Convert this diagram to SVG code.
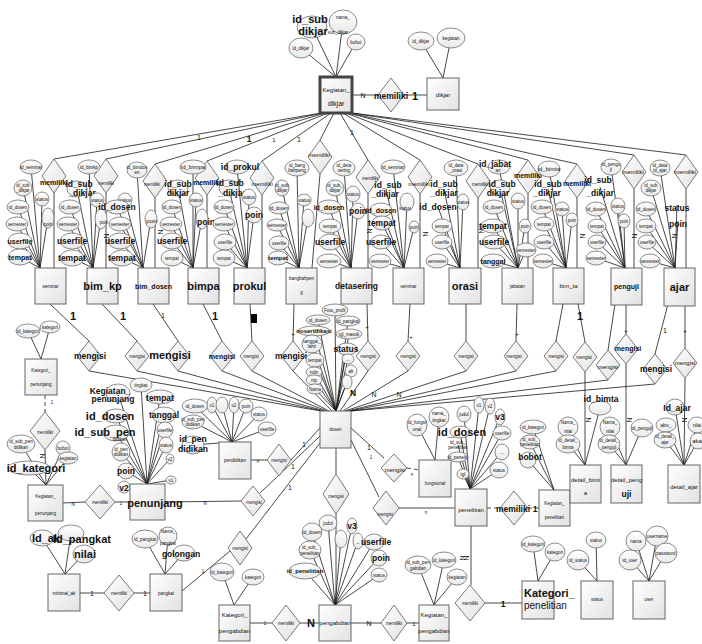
<svg xmlns="http://www.w3.org/2000/svg" width="702" height="644" viewBox="0 0 702 644">
<defs>
<linearGradient id="gb" x1="0" y1="0" x2="1" y2="1"><stop offset="0" stop-color="#ffffff"/><stop offset="1" stop-color="#e2e2e2"/></linearGradient>
<linearGradient id="ga" x1="0" y1="0" x2="0" y2="1"><stop offset="0" stop-color="#ffffff"/><stop offset="1" stop-color="#e9e9e9"/></linearGradient>
</defs>
<style>
.c line{stroke:#1a1a1a;stroke-width:.8;fill:none}
.c .k{stroke-dasharray:4 3}
.b{fill:url(#gb);stroke:#666;stroke-width:1}
.a{fill:url(#ga);stroke:#6e6e6e;stroke-width:.8}
.d{fill:url(#gb);stroke:#6a6a6a;stroke-width:.9}
text{font-family:"Liberation Sans",Arial,sans-serif;text-anchor:middle;fill:#111}
.t{font-size:4.5px}
.s{font-size:6px}
.n{font-size:7px}
.m{font-size:8.5px;font-weight:bold;font-family:"Liberation Sans Narrow","Liberation Sans",Arial,sans-serif}
.L{font-size:11px;font-weight:bold;font-family:"Liberation Sans Narrow","Liberation Sans",Arial,sans-serif}
</style>
<rect width="702" height="644" fill="#fff"/>

<g id="connectors" class="c">
<!-- Kegiatan_dikjar and dikjar attributes -->
<line x1="312" y1="27" x2="336" y2="77"/><line x1="343" y1="22" x2="336" y2="77"/><line x1="301" y1="48" x2="336" y2="77"/><line x1="356" y1="42" x2="336" y2="77"/>
<line x1="421" y1="41" x2="443" y2="78"/><line x1="451" y1="38" x2="443" y2="78"/>
<line x1="352" y1="95" x2="378" y2="95"/><line x1="404" y1="95" x2="427" y2="95"/>
<!-- fan from Kegiatan_dikjar to the memiliki relations -->
<line x1="321" y1="113" x2="54" y2="159"/><line x1="323" y1="113" x2="106" y2="159"/><line x1="325" y1="113" x2="155" y2="164"/><line x1="328" y1="113" x2="207" y2="161"/><line x1="331" y1="113" x2="262" y2="161"/><line x1="334" y1="113" x2="320" y2="140"/><line x1="340" y1="113" x2="368" y2="160"/><line x1="343" y1="113" x2="420" y2="160"/><line x1="346" y1="113" x2="478" y2="164"/><line x1="348" y1="113" x2="528" y2="160"/><line x1="350" y1="113" x2="577" y2="164"/><line x1="351" y1="113" x2="634" y2="155"/><line x1="352" y1="113" x2="686" y2="155"/>
<!-- memiliki to entity boxes -->
<line x1="54" y1="193" x2="54" y2="268"/><line x1="106" y1="193" x2="106" y2="268"/><line x1="155" y1="198" x2="155" y2="268"/><line x1="207" y1="195" x2="207" y2="268"/><line x1="262" y1="195" x2="262" y2="268"/><line x1="320" y1="174" x2="312" y2="268"/><line x1="368" y1="194" x2="368" y2="268"/><line x1="420" y1="194" x2="420" y2="268"/><line x1="478" y1="198" x2="478" y2="268"/><line x1="528" y1="194" x2="528" y2="268"/><line x1="577" y1="198" x2="577" y2="268"/><line x1="634" y1="189" x2="634" y2="268"/><line x1="686" y1="189" x2="686" y2="268"/>
<!-- seminar attributes -->
<line x1="31" y1="167" x2="40" y2="268"/><line x1="23" y1="188" x2="40" y2="268"/><line x1="42" y1="199" x2="40" y2="268"/><line x1="18" y1="207" x2="40" y2="268"/><line x1="17" y1="224" x2="40" y2="268"/><line x1="48" y1="218" x2="40" y2="268"/><line x1="20" y1="241" x2="40" y2="268"/><line x1="20" y1="257" x2="40" y2="268"/>
<!-- bim_kp attributes -->
<line x1="89" y1="167" x2="93" y2="268"/><line x1="77" y1="189" x2="93" y2="268"/><line x1="97" y1="200" x2="93" y2="268"/><line x1="70" y1="207" x2="93" y2="268"/><line x1="68" y1="224" x2="93" y2="268"/><line x1="101" y1="219" x2="93" y2="268"/><line x1="72" y1="241" x2="93" y2="268"/><line x1="72" y1="258" x2="93" y2="268"/>
<!-- bim_dosen attributes -->
<line x1="137" y1="170" x2="143" y2="268"/><line x1="125" y1="200" x2="143" y2="268"/><line x1="117" y1="207" x2="143" y2="268"/><line x1="120" y1="224" x2="143" y2="268"/><line x1="151" y1="219" x2="143" y2="268"/><line x1="120" y1="241" x2="143" y2="268"/><line x1="122" y1="258" x2="143" y2="268"/>
<!-- bimpa attributes -->
<line x1="193" y1="167" x2="193" y2="268"/><line x1="178" y1="188" x2="193" y2="268"/><line x1="196" y1="200" x2="193" y2="268"/><line x1="172" y1="207" x2="193" y2="268"/><line x1="171" y1="224" x2="193" y2="268"/><line x1="202" y1="219" x2="193" y2="268"/><line x1="172" y1="241" x2="193" y2="268"/><line x1="172" y1="258" x2="193" y2="268"/>
<!-- prokul attributes -->
<line x1="237" y1="167" x2="247" y2="268"/><line x1="229" y1="188" x2="247" y2="268"/><line x1="249" y1="197" x2="247" y2="268"/><line x1="224" y1="207" x2="247" y2="268"/><line x1="254" y1="215" x2="247" y2="268"/><line x1="224" y1="224" x2="247" y2="268"/><line x1="225" y1="242" x2="247" y2="268"/><line x1="224" y1="258" x2="247" y2="268"/>
<!-- bangbahpeng attributes -->
<line x1="297" y1="168" x2="299" y2="268"/><line x1="282" y1="188" x2="299" y2="268"/><line x1="304" y1="200" x2="299" y2="268"/><line x1="279" y1="208" x2="299" y2="268"/><line x1="308" y1="218" x2="299" y2="268"/><line x1="277" y1="225" x2="299" y2="268"/><line x1="279" y1="243" x2="299" y2="268"/><line x1="278" y1="258" x2="299" y2="268"/>
<!-- detasering attributes -->
<line x1="344" y1="168" x2="351" y2="268"/><line x1="335" y1="188" x2="351" y2="268"/><line x1="353" y1="194" x2="351" y2="268"/><line x1="329" y1="207" x2="351" y2="268"/><line x1="358" y1="211" x2="351" y2="268"/><line x1="330" y1="226" x2="351" y2="268"/><line x1="330" y1="242" x2="351" y2="268"/><line x1="329" y1="261" x2="351" y2="268"/>
<!-- seminar (second) attributes -->
<line x1="393" y1="167" x2="404" y2="268"/><line x1="386" y1="189" x2="404" y2="268"/><line x1="381" y1="210" x2="404" y2="268"/><line x1="382" y1="223" x2="404" y2="268"/><line x1="381" y1="242" x2="404" y2="268"/><line x1="380" y1="261" x2="404" y2="268"/><line x1="407" y1="202" x2="404" y2="268"/><line x1="414" y1="227" x2="404" y2="268"/>
<!-- orasi attributes -->
<line x1="456" y1="168" x2="460" y2="268"/><line x1="444" y1="189" x2="460" y2="268"/><line x1="438" y1="207" x2="460" y2="268"/><line x1="442" y1="226" x2="460" y2="268"/><line x1="442" y1="242" x2="460" y2="268"/><line x1="437" y1="261" x2="460" y2="268"/><line x1="463" y1="202" x2="460" y2="268"/>
<!-- jabatan attributes -->
<line x1="499" y1="167" x2="518" y2="268"/><line x1="500" y1="188" x2="518" y2="268"/><line x1="494" y1="207" x2="518" y2="268"/><line x1="493" y1="226" x2="518" y2="268"/><line x1="494" y1="242" x2="518" y2="268"/><line x1="493" y1="261" x2="518" y2="268"/><line x1="518" y1="201" x2="518" y2="268"/><line x1="525" y1="226" x2="518" y2="268"/><line x1="526" y1="250" x2="518" y2="268"/>
<!-- bim_ta attributes -->
<line x1="549" y1="169" x2="566" y2="268"/><line x1="548" y1="189" x2="566" y2="268"/><line x1="542" y1="207" x2="566" y2="268"/><line x1="544" y1="224" x2="566" y2="268"/><line x1="544" y1="242" x2="566" y2="268"/><line x1="543" y1="261" x2="566" y2="268"/><line x1="562" y1="209" x2="566" y2="268"/><line x1="572" y1="220" x2="566" y2="268"/>
<!-- penguji attributes -->
<line x1="611" y1="167" x2="625" y2="268"/><line x1="600" y1="187" x2="625" y2="268"/><line x1="596" y1="209" x2="625" y2="268"/><line x1="597" y1="226" x2="625" y2="268"/><line x1="597" y1="242" x2="625" y2="268"/><line x1="596" y1="258" x2="625" y2="268"/><line x1="618" y1="206" x2="625" y2="268"/><line x1="624" y1="221" x2="625" y2="268"/>
<!-- ajar attributes -->
<line x1="660" y1="168" x2="675" y2="268"/><line x1="651" y1="188" x2="675" y2="268"/><line x1="646" y1="209" x2="675" y2="268"/><line x1="646" y1="226" x2="675" y2="268"/><line x1="647" y1="242" x2="675" y2="268"/><line x1="650" y1="261" x2="675" y2="268"/><line x1="677" y1="205" x2="675" y2="268"/><line x1="678" y1="221" x2="675" y2="268"/>
<!-- entity boxes to mengisi -->
<line x1="50" y1="304" x2="89" y2="341"/><line x1="102" y1="304" x2="137" y2="341"/><line x1="153" y1="304" x2="178" y2="341"/><line x1="203" y1="304" x2="222" y2="341"/><line x1="250" y1="304" x2="252" y2="341"/><line x1="294" y1="304" x2="293" y2="341"/><line x1="367" y1="304" x2="368" y2="341"/><line x1="410" y1="304" x2="408" y2="341"/><line x1="466" y1="304" x2="466" y2="341"/><line x1="517" y1="304" x2="516" y2="341"/><line x1="563" y1="304" x2="556" y2="341"/><line x1="578" y1="304" x2="585" y2="342"/><line x1="615" y1="304" x2="608" y2="350"/><line x1="626" y1="304" x2="626" y2="334"/><line x1="668" y1="304" x2="655" y2="354"/><line x1="685" y1="304" x2="685" y2="348"/>
<!-- mengisi to dosen -->
<line x1="89" y1="371" x2="321" y2="411"/><line x1="137" y1="371" x2="323" y2="411"/><line x1="178" y1="371" x2="325" y2="411"/><line x1="222" y1="371" x2="327" y2="411"/><line x1="252" y1="371" x2="329" y2="411"/><line x1="293" y1="371" x2="332" y2="411"/><line x1="368" y1="371" x2="340" y2="411"/><line x1="408" y1="371" x2="343" y2="411"/><line x1="466" y1="371" x2="345" y2="411"/><line x1="516" y1="371" x2="347" y2="411"/><line x1="556" y1="371" x2="349" y2="411"/><line x1="608" y1="380" x2="350" y2="411"/><line x1="655" y1="384" x2="351" y2="411"/>
<!-- dosen attributes -->
<line x1="335" y1="310" x2="336" y2="411"/><line x1="318" y1="320" x2="336" y2="411"/><line x1="348" y1="321" x2="336" y2="411"/><line x1="314" y1="331" x2="336" y2="411"/><line x1="349" y1="334" x2="336" y2="411"/><line x1="312" y1="344" x2="336" y2="411"/><line x1="347" y1="349" x2="336" y2="411"/><line x1="315" y1="360" x2="336" y2="411"/><line x1="348" y1="359" x2="336" y2="411"/><line x1="351" y1="371" x2="336" y2="411"/><line x1="314" y1="372" x2="336" y2="411"/><line x1="314" y1="380" x2="336" y2="411"/><line x1="315" y1="389" x2="336" y2="411"/><line x1="347" y1="382" x2="336" y2="411"/>
<!-- detail relations -->
<line x1="585" y1="372" x2="585" y2="465"/><line x1="626" y1="364" x2="626" y2="465"/><line x1="685" y1="378" x2="684" y2="465"/>
<line x1="568" y1="427" x2="585" y2="465"/><line x1="568" y1="444" x2="585" y2="465"/><line x1="600" y1="408" x2="585" y2="465"/>
<line x1="610" y1="427" x2="626" y2="465"/><line x1="609" y1="444" x2="626" y2="465"/><line x1="642" y1="428" x2="626" y2="465"/>
<line x1="675" y1="407" x2="684" y2="465"/><line x1="666" y1="425" x2="684" y2="465"/><line x1="665" y1="440" x2="684" y2="465"/><line x1="697" y1="425" x2="684" y2="465"/><line x1="698" y1="441" x2="684" y2="465"/>
<!-- Kategori_penunjang / Kegiatan_penunjang -->
<line x1="28" y1="331" x2="41" y2="359"/><line x1="50" y1="327" x2="41" y2="359"/>
<line class="k" x1="45" y1="395" x2="45" y2="412"/><line x1="45" y1="450" x2="46" y2="485"/>
<line x1="21" y1="444" x2="46" y2="485"/><line x1="63" y1="448" x2="46" y2="485"/><line x1="68" y1="458" x2="46" y2="485"/><line x1="29" y1="468" x2="46" y2="485"/>
<line x1="63" y1="503" x2="85" y2="502"/><line x1="115" y1="502" x2="130" y2="502"/>
<!-- penunjang attributes -->
<line x1="118" y1="393" x2="147" y2="484"/><line x1="141" y1="385" x2="147" y2="484"/><line x1="160" y1="397" x2="147" y2="484"/><line x1="116" y1="416" x2="147" y2="484"/><line x1="164" y1="415" x2="147" y2="484"/><line x1="116" y1="433" x2="147" y2="484"/><line x1="165" y1="430" x2="147" y2="484"/><line x1="166" y1="445" x2="147" y2="484"/><line x1="121" y1="452" x2="147" y2="484"/><line x1="170" y1="459" x2="147" y2="484"/><line x1="126" y1="471" x2="147" y2="484"/><line x1="171" y1="480" x2="147" y2="484"/>
<line x1="165" y1="502" x2="241" y2="501"/>
<!-- pendidikan -->
<line x1="195" y1="406" x2="232" y2="442"/><line x1="212" y1="405" x2="232" y2="442"/><line x1="222" y1="405" x2="232" y2="442"/><line x1="234" y1="405" x2="232" y2="442"/><line x1="246" y1="406" x2="232" y2="442"/><line x1="259" y1="414" x2="232" y2="442"/><line x1="267" y1="429" x2="232" y2="442"/><line x1="193" y1="422" x2="232" y2="442"/><line x1="193" y1="445" x2="232" y2="442"/>
<line x1="251" y1="460" x2="267" y2="460"/>
<!-- dosen to the lower relations -->
<line x1="291" y1="460" x2="320" y2="428"/><line x1="260" y1="493" x2="320" y2="436"/><line x1="246" y1="539" x2="320" y2="443"/>
<line x1="182" y1="591" x2="230" y2="551"/>
<line x1="336" y1="448" x2="336" y2="474"/><line x1="336" y1="514" x2="336" y2="605"/>
<line x1="351" y1="428" x2="384" y2="458"/><line x1="351" y1="440" x2="379" y2="497"/>
<line class="k" x1="407" y1="468" x2="419" y2="470"/><line x1="399" y1="508" x2="455" y2="508"/>
<!-- fungsional -->
<line x1="417" y1="425" x2="435" y2="460"/><line x1="439" y1="417" x2="435" y2="460"/>
<!-- penelitian -->
<line x1="464" y1="414" x2="470" y2="489"/><line x1="479" y1="405" x2="470" y2="489"/><line x1="490" y1="406" x2="470" y2="489"/><line x1="500" y1="417" x2="470" y2="489"/><line x1="460" y1="432" x2="470" y2="489"/><line x1="458" y1="445" x2="470" y2="489"/><line x1="458" y1="457" x2="470" y2="489"/><line x1="463" y1="474" x2="470" y2="489"/><line x1="502" y1="433" x2="470" y2="489"/><line x1="502" y1="452" x2="470" y2="489"/><line x1="499" y1="470" x2="470" y2="489"/>
<line class="k" x1="487" y1="508" x2="500" y2="508"/><line class="k" x1="528" y1="508" x2="539" y2="508"/>
<line x1="533" y1="427" x2="554" y2="490"/><line x1="530" y1="442" x2="554" y2="490"/><line x1="528" y1="460" x2="554" y2="490"/>
<line x1="471" y1="526" x2="471" y2="585"/><line x1="485" y1="603" x2="522" y2="603"/>
<line x1="533" y1="544" x2="538" y2="581"/><line x1="555" y1="552" x2="538" y2="581"/>
<line x1="596" y1="540" x2="597" y2="581"/><line x1="578" y1="560" x2="597" y2="581"/>
<line x1="636" y1="541" x2="649" y2="581"/><line x1="657" y1="536" x2="649" y2="581"/><line x1="666" y1="553" x2="649" y2="581"/><line x1="630" y1="560" x2="649" y2="581"/>
<!-- minimal_ak / pangkat -->
<line x1="42" y1="538" x2="65" y2="574"/><line x1="71" y1="533" x2="65" y2="574"/><line x1="84" y1="554" x2="65" y2="574"/>
<line x1="80" y1="593" x2="104" y2="593"/><line x1="134" y1="593" x2="150" y2="593"/>
<line x1="145" y1="539" x2="165" y2="574"/><line x1="168" y1="536" x2="165" y2="574"/><line x1="184" y1="553" x2="165" y2="574"/>
<!-- pengabdian -->
<line x1="222" y1="572" x2="234" y2="605"/><line x1="253" y1="577" x2="234" y2="605"/>
<line x1="250" y1="623" x2="272" y2="623"/><line x1="300" y1="623" x2="319" y2="623"/>
<line x1="312" y1="532" x2="335" y2="605"/><line x1="328" y1="523" x2="335" y2="605"/><line x1="310" y1="550" x2="335" y2="605"/><line x1="305" y1="571" x2="335" y2="605"/><line x1="341" y1="539" x2="335" y2="605"/><line x1="352" y1="526" x2="335" y2="605"/><line x1="358" y1="541" x2="335" y2="605"/><line x1="374" y1="542" x2="335" y2="605"/><line x1="379" y1="558" x2="335" y2="605"/><line x1="379" y1="575" x2="335" y2="605"/>
<line x1="351" y1="623" x2="381" y2="623"/><line x1="407" y1="623" x2="419" y2="623"/>
<line x1="418" y1="565" x2="434" y2="605"/><line x1="444" y1="560" x2="434" y2="605"/><line x1="457" y1="577" x2="434" y2="605"/>
</g>

<g id="labels">
<text class="n" x="363" y="98">N</text><text class="L" x="415" y="100">1</text>
<text class="n" x="199" y="140">1</text><text class="m" x="249" y="142">1</text><text class="s" x="274" y="142">1</text><text class="n" x="299" y="142">1</text><text class="n" x="352" y="135">1</text>
<g class="n"><text transform="translate(104,236) rotate(90)">N</text><text transform="translate(158,232) rotate(90)">N</text><text transform="translate(367,231) rotate(90)">N</text><text transform="translate(423,234) rotate(90)">N</text><text transform="translate(479,231) rotate(90)">N</text><text transform="translate(580,236) rotate(90)">N</text><text transform="translate(632,236) rotate(90)">N</text><text transform="translate(672,236) rotate(90)">N</text><text transform="translate(586,420) rotate(90)">N</text><text transform="translate(627,420) rotate(90)">N</text><text transform="translate(682,420) rotate(90)">N</text><text transform="translate(40,456) rotate(90)">N</text><text transform="translate(464,558) rotate(90)">N</text><text transform="translate(460,558) rotate(90)">N</text></g>
<text class="L" x="73" y="320">1</text><text class="L" x="123" y="320">1</text><text class="n" x="163" y="318">1</text><text class="L" x="215" y="320">1</text><text class="L" x="580" y="320">1</text><text class="n" x="665" y="333">1</text>
<text class="s" x="293" y="336">+</text><text class="s" x="367" y="329">+</text><text class="s" x="411" y="339">+</text><text class="s" x="517" y="336">+</text><text class="s" x="626" y="333">+</text><text class="s" x="685" y="333">+</text>
<text class="m" x="353" y="396">N</text><text class="n" x="374" y="397">N</text><text class="n" x="399" y="397">N</text>
<text class="n" x="304" y="447">1</text><text class="n" x="293" y="469">1</text><text class="n" x="290" y="490">1</text><text class="n" x="369" y="450">1</text><text class="t" x="371" y="459">1</text>
<text class="t" x="258" y="463">n</text><text class="t" x="205" y="505">N</text><text class="t" x="203" y="573">1</text><text class="t" x="412" y="476">n</text><text class="t" x="426" y="514">n</text>
<text class="t" x="52" y="404">1</text><text class="t" x="73" y="506">N</text><text class="t" x="121" y="505">1</text>
<text class="n" x="92" y="596">1</text><text class="n" x="145" y="596">1</text>
<text class="t" x="265" y="625">1</text><text class="L" x="311" y="627">N</text><text class="n" x="369" y="626">N</text><text class="s" x="414" y="626">1</text>
<text class="m" x="535" y="512">1</text><text class="m" x="503" y="607">1</text>
<rect x="251" y="314" width="6" height="9" fill="#000"/>
</g>

<g id="Kegiatan_dikjar">
<ellipse class="a" cx="312" cy="27" rx="15" ry="11"/><text class="L" x="310" y="23">id_sub</text><text class="L" x="313" y="35">dikjar</text>
<ellipse class="a" cx="343" cy="22" rx="14" ry="12"/><text class="t" x="343" y="19">nama_</text><text class="t" x="338" y="34">sub_dikjar</text>
<ellipse class="a" cx="301" cy="48" rx="12" ry="10"/><text class="t" x="301" y="50">id_dikjar</text>
<ellipse class="a" cx="356" cy="42" rx="9" ry="8"/><text class="t" x="356" y="44">bobot</text>
<rect x="320" y="77" width="32" height="36" fill="url(#gb)" stroke="#444" stroke-width="3"/>
<text class="s" x="336" y="92">Kegiatan_</text><text class="n" x="336" y="106">dikjar</text>
</g>
<g id="memiliki_dikjar"><path class="d" d="M391,78 L404,95 L391,112 L378,95Z"/><text class="m" x="391" y="99">memiliki</text></g>
<g id="dikjar">
<ellipse class="a" cx="421" cy="41" rx="13" ry="9"/><text class="t" x="421" y="43">id_dikjar</text>
<ellipse class="a" cx="451" cy="38" rx="14" ry="10"/><text class="t" x="451" y="40">kegiatan</text>
<rect class="b" x="427" y="78" width="32" height="32"/><text class="s" x="443" y="97">dikjar</text>
</g>

<g id="relasi_memiliki">
<path class="d" d="M54,159 L66,176 L54,193 L42,176Z"/><text class="n" x="54" y="185" font-weight="bold">memiliki</text>
<path class="d" d="M106,159 L118,176 L106,193 L94,176Z"/><text class="t" x="106" y="185">memiliki</text>
<path class="d" d="M155,164 L167,181 L155,198 L143,181Z"/><text class="t" x="152" y="186">memiliki</text>
<path class="d" d="M207,161 L219,178 L207,195 L195,178Z"/><text class="n" x="207" y="185" font-weight="bold">memiliki</text>
<path class="d" d="M262,161 L274,178 L262,195 L250,178Z"/><text class="s" x="262" y="186">memiliki</text>
<path class="d" d="M320,140 L332,157 L320,174 L308,157Z"/><text class="s" x="319" y="157">memiliki</text>
<path class="d" d="M368,160 L380,177 L368,194 L356,177Z"/><text class="t" x="370" y="180">memiliki</text>
<path class="d" d="M420,160 L432,177 L420,194 L408,177Z"/><text class="s" x="419" y="186">memiliki</text>
<path class="d" d="M478,164 L490,181 L478,198 L466,181Z"/><text class="t" x="480" y="186">memiliki</text>
<path class="d" d="M528,160 L540,177 L528,194 L516,177Z"/><text class="n" x="528" y="178" font-weight="bold">memiliki</text>
<path class="d" d="M577,164 L589,181 L577,198 L565,181Z"/><text class="n" x="577" y="186" font-weight="bold">memiliki</text>
<path class="d" d="M634,155 L646,172 L634,189 L622,172Z"/><text class="s" x="633" y="174">memiliki</text>
<path class="d" d="M686,155 L698,172 L686,189 L674,172Z"/><text class="s" x="685" y="174">memiliki</text>
</g>

<g id="seminar">
<ellipse class="a" cx="31" cy="167" rx="11" ry="7"/><text class="t" x="31" y="168.5">id_seminar</text>
<ellipse class="a" cx="23" cy="188" rx="9" ry="8"/><text class="t" x="23" y="187">id_sub</text><text class="t" x="23" y="192">_dikjar</text>
<ellipse class="a" cx="42" cy="199" rx="7" ry="7"/><text class="t" x="42" y="200.5">status</text>
<ellipse class="a" cx="18" cy="207" rx="11" ry="7"/><text class="t" x="18" y="208.5">id_dosen</text>
<ellipse class="a" cx="17" cy="224" rx="11" ry="7"/><text class="t" x="17" y="225.5">semester</text>
<ellipse class="a" cx="48" cy="218" rx="6" ry="10"/><text class="t" x="48" y="226">poin</text>
<ellipse class="a" cx="20" cy="241" rx="12" ry="8"/><text class="n" x="20" y="243.5" font-weight="bold">userfile</text>
<ellipse class="a" cx="20" cy="257" rx="12" ry="8"/><text class="n" x="20" y="259.5" font-weight="bold">tempat</text>
<rect class="b" x="35" y="268" width="31" height="36"/><text class="t" x="50.5" y="288">seminar</text>
</g>
<g id="bim_kp">
<ellipse class="a" cx="89" cy="167" rx="11" ry="7"/><text class="t" x="89" y="168.5">id_bimkp</text>
<ellipse class="a" cx="77" cy="189" rx="10" ry="8"/><text class="m" x="79" y="187">id_sub</text><text class="m" x="82" y="196">_dikjar</text>
<ellipse class="a" cx="97" cy="200" rx="7" ry="7"/><text class="t" x="97" y="201.5">status</text>
<ellipse class="a" cx="70" cy="207" rx="11" ry="7"/><text class="t" x="70" y="208.5">id_dosen</text>
<ellipse class="a" cx="68" cy="224" rx="11" ry="7"/><text class="t" x="68" y="225.5">semester</text>
<ellipse class="a" cx="101" cy="219" rx="6" ry="10"/><text class="t" x="104" y="224">poin</text>
<ellipse class="a" cx="72" cy="241" rx="12" ry="8"/><text class="m" x="72" y="244">userfile</text>
<ellipse class="a" cx="72" cy="258" rx="12" ry="8"/><text class="m" x="72" y="261">tempat</text>
<rect class="b" x="87" y="268" width="31" height="36"/><text class="L" x="102.5" y="290">bim_kp</text>
</g>
<g id="bim_dosen">
<ellipse class="a" cx="137" cy="170" rx="10" ry="8"/><text class="t" x="137" y="169">id_bimdos</text><text class="t" x="137" y="174">en</text>
<ellipse class="a" cx="125" cy="200" rx="7" ry="7"/><text class="t" x="125" y="201.5">status</text>
<ellipse class="a" cx="117" cy="207" rx="12" ry="7"/><text class="m" x="117" y="210">id_dosen</text>
<ellipse class="a" cx="120" cy="224" rx="11" ry="7"/><text class="t" x="120" y="225.5">semester</text>
<ellipse class="a" cx="151" cy="219" rx="6" ry="9"/><text class="s" x="152" y="223">poin</text>
<ellipse class="a" cx="120" cy="241" rx="12" ry="8"/><text class="m" x="120" y="244">userfile</text>
<ellipse class="a" cx="122" cy="258" rx="12" ry="8"/><text class="m" x="122" y="261">tempat</text>
<rect class="b" x="138" y="268" width="31" height="36"/><text class="n" x="153.5" y="289" font-weight="bold">bim_dosen</text>
</g>
<g id="bimpa">
<ellipse class="a" cx="193" cy="167" rx="13" ry="7"/><text class="s" x="193" y="169">id_bimpa</text>
<ellipse class="a" cx="178" cy="188" rx="10" ry="8"/><text class="m" x="178" y="187">id_sub</text><text class="m" x="178" y="196">dikjar</text>
<ellipse class="a" cx="196" cy="200" rx="7" ry="7"/><text class="t" x="196" y="201.5">status</text>
<ellipse class="a" cx="172" cy="207" rx="10" ry="7"/><text class="t" x="172" y="208.5">id_dosen</text>
<ellipse class="a" cx="171" cy="224" rx="11" ry="7"/><text class="t" x="171" y="225.5">semester</text>
<ellipse class="a" cx="202" cy="219" rx="6" ry="10"/><text class="m" x="206" y="225">poin</text>
<ellipse class="a" cx="172" cy="241" rx="11" ry="8"/><text class="m" x="172" y="244">userfile</text>
<ellipse class="a" cx="172" cy="258" rx="11" ry="8"/><text class="t" x="172" y="259.5">tempat</text>
<rect class="b" x="188" y="268" width="31" height="36"/><text class="L" x="203.5" y="290">bimpa</text>
</g>
<g id="prokul">
<ellipse class="a" cx="237" cy="167" rx="12" ry="7"/><text class="m" x="240" y="170">id_prokul</text>
<ellipse class="a" cx="229" cy="188" rx="10" ry="8"/><text class="m" x="230" y="186">id_sub</text><text class="m" x="232" y="196">_dikjar</text>
<ellipse class="a" cx="249" cy="197" rx="7" ry="8"/><text class="t" x="249" y="198.5">status</text>
<ellipse class="a" cx="224" cy="207" rx="10" ry="7"/><text class="t" x="224" y="208.5">id_dosen</text>
<ellipse class="a" cx="254" cy="215" rx="8" ry="8"/><text class="m" x="254" y="218">poin</text>
<ellipse class="a" cx="224" cy="224" rx="11" ry="7"/><text class="t" x="224" y="225.5">semester</text>
<ellipse class="a" cx="225" cy="242" rx="11" ry="8"/><text class="t" x="225" y="243.5">userfile</text>
<ellipse class="a" cx="224" cy="258" rx="11" ry="8"/><text class="t" x="224" y="259.5">tempat</text>
<rect class="b" x="234" y="268" width="31" height="36"/><text class="L" x="249.5" y="290">prokul</text>
</g>
<g id="bangbahpeng">
<ellipse class="a" cx="297" cy="168" rx="12" ry="8"/><text class="t" x="297" y="167">id_bang</text><text class="t" x="297" y="172">bahpeng</text>
<ellipse class="a" cx="282" cy="188" rx="7" ry="8"/><text class="t" x="282" y="187">id_sub</text><text class="t" x="282" y="192">dikjar</text>
<ellipse class="a" cx="304" cy="200" rx="7" ry="6"/><text class="t" x="304" y="201.5">status</text>
<ellipse class="a" cx="279" cy="208" rx="10" ry="6"/><text class="t" x="279" y="209.5">id_dosen</text>
<ellipse class="a" cx="308" cy="218" rx="6" ry="9"/>
<ellipse class="a" cx="277" cy="225" rx="10" ry="6"/><text class="t" x="277" y="226.5">semester</text>
<ellipse class="a" cx="279" cy="243" rx="10" ry="7"/><text class="t" x="279" y="244.5">userfile</text>
<ellipse class="a" cx="278" cy="258" rx="10" ry="7"/><text class="s" x="278" y="260" font-weight="bold">tempat</text>
<rect class="b" x="286" y="268" width="31" height="36"/><text class="t" x="301.5" y="280">bangbahpen</text><text class="t" x="301.5" y="294">g</text>
</g>
<g id="detasering">
<ellipse class="a" cx="344" cy="168" rx="11" ry="8"/><text class="t" x="344" y="167">id_deta</text><text class="t" x="344" y="172">sering</text>
<ellipse class="a" cx="335" cy="188" rx="9" ry="8"/><text class="t" x="335" y="187">id_sub_</text><text class="t" x="335" y="192">dikjar</text>
<ellipse class="a" cx="353" cy="194" rx="7" ry="8"/><text class="t" x="353" y="195.5">status</text>
<ellipse class="a" cx="329" cy="207" rx="12" ry="7"/><text class="n" x="329" y="209.5" font-weight="bold">id_dosen</text>
<ellipse class="a" cx="358" cy="211" rx="7" ry="8"/><text class="m" x="358" y="214">poin</text>
<ellipse class="a" cx="330" cy="226" rx="11" ry="7"/><text class="t" x="330" y="227.5">tempat</text>
<ellipse class="a" cx="330" cy="242" rx="11" ry="8"/><text class="m" x="330" y="245">userfile</text>
<ellipse class="a" cx="329" cy="261" rx="12" ry="7"/><text class="t" x="329" y="262.5">semester</text>
<rect class="b" x="341" y="268" width="31" height="36"/><text class="m" x="356.5" y="289">detasering</text>
</g>
<g id="seminar_2">
<ellipse class="a" cx="393" cy="167" rx="12" ry="7"/><text class="t" x="393" y="168.5">id_seminar</text>
<text class="m" x="388" y="188">id_sub</text><text class="m" x="385" y="197">_dikjar</text>
<ellipse class="a" cx="381" cy="210" rx="11" ry="7"/><text class="n" x="381" y="212.5" font-weight="bold">id_dosen</text>
<ellipse class="a" cx="382" cy="223" rx="10" ry="7"/><text class="m" x="382" y="226">tempat</text>
<ellipse class="a" cx="381" cy="242" rx="10" ry="7"/><text class="m" x="381" y="245">userfile</text>
<ellipse class="a" cx="380" cy="261" rx="11" ry="7"/><text class="t" x="380" y="262.5">semester</text>
<ellipse class="a" cx="407" cy="202" rx="7" ry="9"/><text class="t" x="405" y="210">status</text>
<ellipse class="a" cx="414" cy="227" rx="5" ry="6"/><text class="t" x="414" y="228.5">poin</text>
<rect class="b" x="393" y="268" width="31" height="36"/><text class="t" x="408.5" y="288">seminar</text>
</g>
<g id="orasi">
<ellipse class="a" cx="456" cy="168" rx="12" ry="8"/><text class="t" x="456" y="167">id_data</text><text class="t" x="456" y="172">_orasi</text>
<text class="m" x="444" y="187">id_sub</text><text class="m" x="444" y="196">_dikjar</text>
<text class="m" x="438" y="210">id_dosen</text>
<ellipse class="a" cx="442" cy="226" rx="10" ry="7"/><text class="t" x="442" y="227.5">tempat</text>
<ellipse class="a" cx="442" cy="242" rx="10" ry="7"/><text class="t" x="442" y="243.5">userfile</text>
<ellipse class="a" cx="437" cy="261" rx="11" ry="7"/><text class="t" x="437" y="262.5">semester</text>
<ellipse class="a" cx="463" cy="202" rx="6" ry="8"/><text class="t" x="463" y="203.5">status</text>
<rect class="b" x="449" y="268" width="32" height="36"/><text class="L" x="465" y="290">orasi</text>
</g>
<g id="jabatan">
<ellipse class="a" cx="499" cy="167" rx="11" ry="7"/><text class="m" x="495" y="167">id_jabat</text><text class="t" x="498" y="172">an</text>
<ellipse class="a" cx="500" cy="188" rx="10" ry="8"/><text class="m" x="502" y="187">id_sub</text><text class="m" x="498" y="196">dikjar</text>
<ellipse class="a" cx="494" cy="207" rx="11" ry="7"/><text class="t" x="494" y="208.5">id_dosen</text>
<ellipse class="a" cx="493" cy="226" rx="12" ry="7"/><text class="m" x="493" y="229">tempat</text>
<ellipse class="a" cx="494" cy="242" rx="12" ry="7"/><text class="m" x="494" y="245">userfile</text>
<ellipse class="a" cx="493" cy="261" rx="12" ry="7"/><text class="n" x="493" y="263.5" font-weight="bold">tanggal</text>
<ellipse class="a" cx="518" cy="201" rx="7" ry="8"/><text class="t" x="518" y="202.5">status</text>
<ellipse class="a" cx="525" cy="226" rx="6" ry="7"/><text class="t" x="525" y="227.5">poin</text>
<ellipse class="a" cx="526" cy="250" rx="10" ry="7"/><text class="t" x="526" y="251.5">semester</text>
<rect class="b" x="502" y="268" width="31" height="36"/><text class="t" x="517.5" y="288">jabatan</text>
</g>
<g id="bim_ta">
<ellipse class="a" cx="549" cy="169" rx="11" ry="8"/><text class="s" x="549" y="171">id_bimta</text>
<text class="m" x="548" y="187">id_sub</text><text class="m" x="547" y="196">_dikjar</text>
<ellipse class="a" cx="542" cy="207" rx="11" ry="7"/><text class="t" x="542" y="208.5">id_dosen</text>
<ellipse class="a" cx="544" cy="224" rx="10" ry="7"/><text class="t" x="544" y="225.5">tempat</text>
<ellipse class="a" cx="544" cy="242" rx="10" ry="7"/><text class="t" x="544" y="243.5">userfile</text>
<ellipse class="a" cx="543" cy="261" rx="10" ry="7"/><text class="t" x="543" y="262.5">semester</text>
<ellipse class="a" cx="562" cy="209" rx="7" ry="7"/><text class="t" x="562" y="210.5">status</text>
<ellipse class="a" cx="572" cy="220" rx="6" ry="7"/><text class="t" x="572" y="221.5">poin</text>
<rect class="b" x="553" y="268" width="31" height="36"/><text class="s" x="568.5" y="288">bim_ta</text>
</g>
<g id="penguji">
<ellipse class="a" cx="611" cy="167" rx="10" ry="8"/><text class="t" x="611" y="166">id_pengu</text><text class="t" x="611" y="171">ji</text>
<text class="m" x="598" y="183">id_sub</text><text class="m" x="600" y="196">_dikjar</text>
<ellipse class="a" cx="596" cy="209" rx="10" ry="7"/><text class="t" x="596" y="210.5">id_dosen</text>
<ellipse class="a" cx="597" cy="226" rx="9" ry="7"/><text class="t" x="597" y="227.5">tempat</text>
<ellipse class="a" cx="597" cy="242" rx="9" ry="7"/><text class="t" x="597" y="243.5">userfile</text>
<ellipse class="a" cx="596" cy="258" rx="10" ry="7"/><text class="t" x="596" y="259.5">semester</text>
<ellipse class="a" cx="618" cy="206" rx="7" ry="8"/><text class="t" x="618" y="207.5">status</text>
<ellipse class="a" cx="624" cy="221" rx="6" ry="7"/><text class="t" x="624" y="222.5">poin</text>
<rect class="b" x="611" y="268" width="31" height="37"/><text class="n" x="626.5" y="289" font-weight="bold">penguji</text>
</g>
<g id="ajar">
<ellipse class="a" cx="660" cy="168" rx="10" ry="8"/><text class="t" x="660" y="167">id_data</text><text class="t" x="660" y="172">id_ajar</text>
<ellipse class="a" cx="651" cy="188" rx="10" ry="8"/><text class="t" x="651" y="187">id_sub</text><text class="t" x="651" y="192">dikjar</text>
<ellipse class="a" cx="646" cy="209" rx="10" ry="7"/><text class="t" x="646" y="210.5">id_dosen</text>
<ellipse class="a" cx="646" cy="226" rx="10" ry="7"/><text class="t" x="646" y="227.5">tempat</text>
<ellipse class="a" cx="647" cy="242" rx="9" ry="7"/><text class="t" x="647" y="243.5">userfile</text>
<ellipse class="a" cx="650" cy="261" rx="10" ry="7"/><text class="t" x="650" y="262.5">semester</text>
<text class="m" x="677" y="211">status</text><text class="m" x="678" y="227">poin</text>
<rect class="b" x="664" y="268" width="31" height="38"/><text class="L" x="679.5" y="291">ajar</text>
</g>

<g id="relasi_mengisi">
<path class="d" d="M89,341 L101,356 L89,371 L77,356Z"/><text class="m" x="90" y="359" font-size="8px">mengisi</text>
<path class="d" d="M137,341 L149,356 L137,371 L125,356Z"/><text class="t" x="137" y="358">mengisi</text>
<path class="d" d="M178,341 L190,356 L178,371 L166,356Z"/><text class="L" x="170" y="359">mengisi</text>
<path class="d" d="M222,341 L234,356 L222,371 L210,356Z"/><text class="n" x="222" y="359" font-weight="bold">mengisi</text>
<path class="d" d="M252,341 L264,356 L252,371 L240,356Z"/><text class="t" x="251" y="358">mengisi</text>
<path class="d" d="M293,341 L305,356 L293,371 L281,356Z"/><text class="m" x="291" y="359">mengisi</text>
<path class="d" d="M368,341 L380,356 L368,371 L356,356Z"/><text class="t" x="368" y="358">mengisi</text>
<path class="d" d="M408,341 L420,356 L408,371 L396,356Z"/><text class="t" x="408" y="358">mengisi</text>
<path class="d" d="M466,341 L478,356 L466,371 L454,356Z"/><text class="t" x="466" y="358">mengisi</text>
<path class="d" d="M516,341 L528,356 L516,371 L504,356Z"/><text class="t" x="514" y="358">mengisi</text>
<path class="d" d="M556,341 L568,356 L556,371 L544,356Z"/><text class="t" x="556" y="358">mengisi</text>
<path class="d" d="M585,342 L597,357 L585,372 L573,357Z"/><text class="t" x="584" y="359">mengisi</text>
<path class="d" d="M608,350 L620,365 L608,380 L596,365Z"/><text class="s" x="608" y="369">mengisi</text>
<path class="d" d="M626,334 L638,349 L626,364 L614,349Z"/><text class="n" x="628" y="351" font-weight="bold">mengisi</text>
<path class="d" d="M655,354 L667,369 L655,384 L643,369Z"/><text class="m" x="656" y="372">mengisi</text>
<path class="d" d="M685,348 L697,363 L685,378 L673,363Z"/><text class="s" x="685" y="365">mengisi</text>
<path class="d" d="M279,444 L291,460 L279,476 L267,460Z"/><text class="t" x="279" y="462">mengisi</text>
<path class="d" d="M253,486 L265,501 L253,516 L241,501Z"/><text class="t" x="254" y="504">mengisi</text>
<path class="d" d="M240,531 L252,548 L240,565 L228,548Z"/><text class="t" x="240" y="550">mengisi</text>
<path class="d" d="M336,474 L349,494 L336,514 L323,494Z"/><text class="t" x="336" y="498">mengisi</text>
<path class="d" d="M394,454 L407,468 L394,482 L381,468Z"/><text class="s" x="395" y="472">mengisi</text>
<path class="d" d="M386,491 L399,508 L386,525 L373,508Z"/><text class="t" x="385" y="516">mengisi</text>
</g>

<g id="dosen">
<ellipse class="a" cx="335" cy="310" rx="13" ry="6"/><text class="t" x="335" y="311.5">Foto_profil</text>
<ellipse class="a" cx="318" cy="320" rx="12" ry="5"/><text class="t" x="318" y="321.5">id_dosen</text>
<ellipse class="a" cx="348" cy="321" rx="12" ry="5"/><text class="t" x="348" y="322.5">id_pangkat</text>
<ellipse class="a" cx="314" cy="331" rx="16" ry="5"/><text class="s" x="314" y="333" font-weight="bold">nosertifikasi</text>
<ellipse class="a" cx="349" cy="334" rx="13" ry="5"/><text class="t" x="349" y="335.5">tgl_masuk</text>
<ellipse class="a" cx="312" cy="344" rx="10" ry="9"/><text class="t" x="312" y="343">tanggal_</text><text class="t" x="312" y="348">lahir</text>
<ellipse class="a" cx="347" cy="349" rx="10" ry="6"/><text class="m" x="346" y="352">status</text>
<ellipse class="a" cx="315" cy="360" rx="9" ry="7"/><text class="t" x="315" y="361.5">tempat</text>
<ellipse class="a" cx="348" cy="359" rx="6" ry="5"/><text class="t" x="348" y="360.5">...</text>
<ellipse class="a" cx="351" cy="371" rx="6" ry="6"/><text class="t" x="351" y="372.5">alt</text>
<ellipse class="a" cx="314" cy="372" rx="8" ry="5"/><text class="t" x="314" y="373.5">nidn</text>
<ellipse class="a" cx="314" cy="380" rx="8" ry="5"/><text class="t" x="314" y="381.5">nip</text>
<ellipse class="a" cx="315" cy="389" rx="8" ry="5"/><text class="t" x="315" y="390.5">Nama</text>
<ellipse class="a" cx="347" cy="382" rx="5" ry="7"/>
<rect class="b" x="320" y="411" width="31" height="37"/><text class="t" x="335.5" y="431">dosen</text>
</g>

<g id="Kategori_penunjang">
<ellipse class="a" cx="28" cy="331" rx="12" ry="7"/><text class="t" x="28" y="332.5">id_kategori</text>
<ellipse class="a" cx="50" cy="327" rx="10" ry="6"/><text class="t" x="50" y="328.5">kategori</text>
<rect class="b" x="25" y="359" width="32" height="36"/><text class="t" x="41" y="372">Kategori_</text><text class="t" x="41" y="386">penunjang</text>
</g>
<g id="memiliki_kategori_penunjang"><path class="d" d="M45,412 L60,431 L45,450 L30,431Z"/><text class="t" x="45" y="434">memiliki</text></g>
<g id="Kegiatan_penunjang">
<ellipse class="a" cx="21" cy="444" rx="14" ry="9"/><text class="t" x="21" y="443">id_sub_pen</text><text class="t" x="21" y="449">didikan</text>
<ellipse class="a" cx="63" cy="448" rx="7" ry="7"/><text class="t" x="63" y="449.5">bobot</text>
<ellipse class="a" cx="68" cy="458" rx="10" ry="6"/><text class="t" x="68" y="459.5">kegiatan</text>
<ellipse class="a" cx="29" cy="468" rx="21" ry="7"/><text class="L" x="36" y="472">id_kategori</text>
<rect class="b" x="28" y="485" width="35" height="36"/><text class="t" x="45.5" y="498">Kegiatan_</text><text class="t" x="45.5" y="515">penunjang</text>
</g>
<g id="memiliki_penunjang"><path class="d" d="M100,485 L115,502 L100,519 L85,502Z"/><text class="t" x="100" y="504">memiliki</text></g>
<g id="penunjang">
<ellipse class="a" cx="118" cy="393" rx="12" ry="9"/><text class="m" x="110" y="394" font-size="10px">Kegiatan_</text><text class="m" x="113" y="402" font-size="8px">penunjang</text>
<ellipse class="a" cx="141" cy="385" rx="11" ry="7"/><text class="t" x="141" y="386.5">tingkat</text>
<ellipse class="a" cx="160" cy="397" rx="14" ry="7"/><text class="m" x="160" y="400.5" font-size="10px">tempat</text>
<ellipse class="a" cx="116" cy="416" rx="12" ry="7"/><text class="L" x="110" y="420" font-size="10px">id_dosen</text>
<ellipse class="a" cx="164" cy="415" rx="12" ry="8"/><text class="m" x="164" y="418">tanggal</text>
<ellipse class="a" cx="116" cy="433" rx="13" ry="8"/><text class="L" x="105" y="436" font-size="10px">id_sub_pen</text><text class="t" x="120" y="441">didikan</text>
<ellipse class="a" cx="165" cy="430" rx="8" ry="8"/><text class="t" x="165" y="431.5">userfile</text>
<ellipse class="a" cx="166" cy="445" rx="7" ry="8"/><text class="t" x="166" y="446.5">status</text>
<ellipse class="a" cx="121" cy="452" rx="9" ry="9"/><text class="t" x="121" y="451">id_pen</text><text class="t" x="121" y="456">didikan</text>
<ellipse class="a" cx="170" cy="459" rx="4" ry="5"/><text class="t" x="170" y="460.5">v2</text>
<ellipse class="a" cx="126" cy="471" rx="8" ry="8"/><text class="m" x="126" y="474">poin</text>
<ellipse class="a" cx="171" cy="480" rx="5" ry="4"/><text class="t" x="171" y="481.5">v1</text>
<ellipse class="a" cx="124" cy="487" rx="6" ry="6"/><text class="m" x="124" y="491">v2</text>
<rect class="b" x="130" y="484" width="35" height="36"/><text class="L" x="155" y="507" font-size="10.5px">penunjang</text>
</g>
<g id="pendidikan">
<ellipse class="a" cx="195" cy="406" rx="13" ry="7"/><text class="t" x="195" y="407.5">id_dosen</text>
<ellipse class="a" cx="212" cy="405" rx="5" ry="8"/><text class="t" x="212" y="406.5">v1</text>
<ellipse class="a" cx="222" cy="405" rx="6" ry="8"/>
<ellipse class="a" cx="234" cy="405" rx="5" ry="8"/><text class="t" x="234" y="406.5">v2</text>
<ellipse class="a" cx="246" cy="406" rx="7" ry="7"/><text class="t" x="246" y="407.5">poin</text>
<ellipse class="a" cx="259" cy="414" rx="8" ry="7"/><text class="t" x="259" y="415.5">status</text>
<ellipse class="a" cx="267" cy="429" rx="9" ry="7"/><text class="t" x="267" y="430.5">userfile</text>
<ellipse class="a" cx="193" cy="422" rx="11" ry="7"/><text class="t" x="193" y="421">id_sub_pen</text><text class="t" x="193" y="426">didikan</text>
<ellipse class="a" cx="193" cy="445" rx="11" ry="9"/><text class="m" x="193" y="442">id_pen</text><text class="m" x="193" y="452" font-size="8px">didikan</text>
<rect class="b" x="219" y="442" width="32" height="37"/><text class="t" x="235" y="462">pendidikan</text>
</g>
<g id="minimal_ak">
<ellipse class="a" cx="42" cy="538" rx="12" ry="8"/><text class="L" x="46" y="542" font-size="10px">Id_ak</text>
<ellipse class="a" cx="71" cy="533" rx="13" ry="8"/><text class="L" x="82" y="543" font-size="10px">Id_pangkat</text>
<ellipse class="a" cx="84" cy="554" rx="11" ry="9"/><text class="L" x="85" y="558" font-size="10px">nilai</text>
<rect class="b" x="48" y="574" width="32" height="37"/><text class="t" x="64" y="595">minimal_ak</text>
</g>
<g id="memiliki_pangkat"><path class="d" d="M119,575 L134,593 L119,611 L104,593Z"/><text class="t" x="119" y="595">memiliki</text></g>
<g id="pangkat">
<ellipse class="a" cx="145" cy="539" rx="13" ry="9"/><text class="t" x="145" y="540.5">Id_pangkat</text>
<ellipse class="a" cx="168" cy="536" rx="9" ry="9"/><text class="t" x="168" y="533">Nama_</text><text class="t" x="168" y="545">pangkat</text>
<ellipse class="a" cx="184" cy="553" rx="11" ry="8"/><text class="m" x="181" y="557">golongan</text>
<rect class="b" x="150" y="574" width="32" height="37"/><text class="t" x="166" y="595">pangkat</text>
</g>
<g id="Kategori_pengabdian">
<ellipse class="a" cx="222" cy="572" rx="12" ry="9"/><text class="t" x="222" y="573.5">id_kategori</text>
<ellipse class="a" cx="253" cy="577" rx="11" ry="8"/><text class="t" x="253" y="578.5">kategori</text>
<rect class="b" x="219" y="605" width="31" height="36"/><text class="s" x="234.5" y="617">Kategori_</text><text class="s" x="234.5" y="633">pengabdian</text>
</g>
<g id="memiliki_kategori_pengabdian"><path class="d" d="M286,605 L300,623 L286,641 L272,623Z"/><text class="t" x="286" y="625">memiliki</text></g>
<g id="pengabdian">
<ellipse class="a" cx="312" cy="532" rx="10" ry="9"/><text class="t" x="312" y="533.5">id_dosen</text>
<ellipse class="a" cx="328" cy="523" rx="9" ry="8"/><text class="t" x="328" y="524.5">judul</text>
<ellipse class="a" cx="310" cy="550" rx="11" ry="9"/><text class="t" x="310" y="549">id_sub_</text><text class="t" x="310" y="555">penelitian</text>
<ellipse class="a" cx="305" cy="571" rx="16" ry="8"/><text class="s" x="305" y="573" font-weight="bold">id_penelitian</text>
<ellipse class="a" cx="341" cy="539" rx="6" ry="9"/>
<ellipse class="a" cx="352" cy="526" rx="5" ry="8"/><text class="m" x="352" y="529">v3</text>
<ellipse class="a" cx="358" cy="541" rx="5" ry="8"/><text class="t" x="358" y="542.5">_</text>
<ellipse class="a" cx="374" cy="542" rx="10" ry="8"/><text class="m" x="376" y="545">userfile</text>
<ellipse class="a" cx="379" cy="558" rx="8" ry="8"/><text class="m" x="381" y="561">poin</text>
<ellipse class="a" cx="379" cy="575" rx="8" ry="7"/><text class="t" x="379" y="576.5">status</text>
<rect class="b" x="319" y="605" width="32" height="36"/><text class="s" x="335" y="625">pengabdian</text>
</g>
<g id="memiliki_pengabdian"><path class="d" d="M394,605 L407,623 L394,641 L381,623Z"/><text class="t" x="394" y="625">memiliki</text></g>
<g id="Kegiatan_pengabdian">
<ellipse class="a" cx="418" cy="565" rx="13" ry="9"/><text class="t" x="418" y="564">id_sub_pen</text><text class="t" x="418" y="570">gabdian</text>
<ellipse class="a" cx="444" cy="560" rx="12" ry="8"/><text class="t" x="444" y="561.5">id_kategori</text>
<ellipse class="a" cx="457" cy="577" rx="10" ry="8"/><text class="t" x="457" y="578.5">kegiatan</text>
<rect class="b" x="419" y="605" width="30" height="36"/><text class="s" x="434" y="617">Kegiatan_</text><text class="s" x="434" y="633">pengabdian</text>
</g>
<g id="fungsional">
<ellipse class="a" cx="417" cy="425" rx="10" ry="11"/><text class="t" x="417" y="424">id_fungsi</text><text class="t" x="417" y="431">onal</text>
<ellipse class="a" cx="439" cy="417" rx="10" ry="10"/><text class="t" x="439" y="415">nama_</text><text class="t" x="439" y="422">tingkat</text>
<rect class="b" x="419" y="460" width="32" height="37"/><text class="t" x="435" y="485">fungsional</text>
</g>
<g id="penelitian">
<ellipse class="a" cx="464" cy="414" rx="7" ry="8"/><text class="t" x="464" y="415.5">judul</text>
<ellipse class="a" cx="479" cy="405" rx="5" ry="8"/><text class="t" x="479" y="406.5">v1</text>
<ellipse class="a" cx="490" cy="406" rx="5" ry="8"/><text class="t" x="490" y="407.5">v2</text>
<ellipse class="a" cx="500" cy="417" rx="5" ry="8"/><text class="m" x="500" y="420" font-size="8px">v3</text>
<ellipse class="a" cx="460" cy="432" rx="10" ry="6"/><text class="L" x="462" y="436" font-size="10px">id_dosen</text>
<text class="t" x="458" y="444">id_sub_</text><text class="t" x="458" y="449">penelitian</text>
<ellipse class="a" cx="458" cy="457" rx="10" ry="5"/><text class="t" x="458" y="458.5">id_peneliti</text>
<ellipse class="a" cx="463" cy="474" rx="6" ry="5"/><text class="t" x="463" y="475.5">tgl</text>
<ellipse class="a" cx="502" cy="433" rx="9" ry="7"/><text class="t" x="502" y="434.5">userfile</text>
<ellipse class="a" cx="502" cy="452" rx="7" ry="8"/><text class="t" x="502" y="453.5">...</text>
<ellipse class="a" cx="499" cy="470" rx="9" ry="8"/><text class="t" x="499" y="471.5">status</text>
<rect class="b" x="455" y="489" width="32" height="37"/><text class="s" x="471" y="512">penelitian</text>
</g>
<g id="memiliki_kegiatan_penelitian"><path class="d" d="M514,491 L528,508 L514,525 L500,508Z"/><text class="m" x="513" y="512" font-size="8px">memiliki</text></g>
<g id="Kegiatan_penelitian">
<ellipse class="a" cx="533" cy="427" rx="13" ry="7"/><text class="t" x="533" y="428.5">id_kategori</text>
<ellipse class="a" cx="530" cy="442" rx="10" ry="7"/><text class="t" x="530" y="441">id_sub_</text><text class="t" x="530" y="446">penelitian</text>
<ellipse class="a" cx="528" cy="460" rx="8" ry="8"/><text class="m" x="530" y="460">bobot</text>
<rect class="b" x="539" y="490" width="31" height="36"/><text class="t" x="554.5" y="505">Kegiatan_</text><text class="t" x="554.5" y="519">penelitian</text>
</g>
<g id="memiliki_kategori_penelitian"><path class="d" d="M470,585 L485,603 L470,621 L455,603Z"/><text class="t" x="470" y="605">memiliki</text></g>
<g id="Kategori_penelitian">
<ellipse class="a" cx="533" cy="544" rx="12" ry="8"/><text class="t" x="533" y="545.5">id_kategori</text>
<ellipse class="a" cx="555" cy="552" rx="10" ry="9"/><text class="t" x="555" y="553.5">kategori</text>
<rect class="b" x="522" y="581" width="32" height="38"/><text class="L" x="524" y="597" style="text-anchor:start">Kategori_</text><text class="m" x="524" y="609" style="text-anchor:start;font-weight:normal;font-size:10px">penelitian</text>
</g>
<g id="status">
<ellipse class="a" cx="596" cy="540" rx="10" ry="8"/><text class="t" x="596" y="541.5">status</text>
<ellipse class="a" cx="578" cy="560" rx="11" ry="10"/><text class="t" x="578" y="561.5">id_status</text>
<rect class="b" x="581" y="581" width="32" height="38"/><text class="t" x="597" y="601">status</text>
</g>
<g id="user">
<ellipse class="a" cx="636" cy="541" rx="10" ry="10"/><text class="t" x="636" y="542.5">nama</text>
<ellipse class="a" cx="657" cy="536" rx="11" ry="10"/><text class="t" x="657" y="537.5">username</text>
<ellipse class="a" cx="666" cy="553" rx="11" ry="10"/><text class="t" x="666" y="554.5">password</text>
<ellipse class="a" cx="630" cy="560" rx="11" ry="10"/><text class="t" x="630" y="561.5">id_user</text>
<rect class="b" x="633" y="581" width="32" height="38"/><text class="t" x="649" y="601">user</text>
</g>
<g id="detail_bimta">
<ellipse class="a" cx="568" cy="427" rx="10" ry="10"/><text class="t" x="568" y="424">Nama_</text><text class="t" x="568" y="433">nilai</text>
<ellipse class="a" cx="568" cy="444" rx="12" ry="9"/><text class="t" x="568" y="442">id_detail_</text><text class="t" x="568" y="449">bimta</text>
<ellipse class="a" cx="600" cy="408" rx="11" ry="7"/><text class="m" x="601" y="402">id_bimta</text>
<rect class="b" x="570" y="465" width="31" height="38"/><text class="s" x="585.5" y="482">detail_bimt</text><text class="s" x="585.5" y="495">a</text>
</g>
<g id="detail_penguji">
<ellipse class="a" cx="610" cy="427" rx="10" ry="10"/><text class="t" x="610" y="424">Nama_</text><text class="t" x="610" y="433">nilai</text>
<ellipse class="a" cx="609" cy="444" rx="11" ry="9"/><text class="t" x="609" y="442">id_detail_</text><text class="t" x="609" y="449">penguji</text>
<ellipse class="a" cx="642" cy="428" rx="11" ry="9"/><text class="t" x="642" y="429.5">id_penguji</text>
<rect class="b" x="611" y="465" width="31" height="38"/><text class="s" x="626.5" y="482">detail_peng</text><text class="m" x="626.5" y="497">uji</text>
</g>
<g id="detail_ajar">
<ellipse class="a" cx="675" cy="407" rx="9" ry="8"/><text class="m" x="677" y="411">Id_ajar</text>
<ellipse class="a" cx="666" cy="425" rx="10" ry="7"/><text class="t" x="666" y="426.5">aktv_</text>
<ellipse class="a" cx="665" cy="440" rx="11" ry="8"/><text class="t" x="665" y="438">id_detail_</text><text class="t" x="665" y="444">ajar</text>
<ellipse class="a" cx="697" cy="425" rx="9" ry="8"/><text class="t" x="697" y="426.5">nilai</text>
<ellipse class="a" cx="698" cy="441" rx="8" ry="8"/><text class="s" x="697" y="443">aka</text>
<rect class="b" x="668" y="465" width="32" height="38"/><text class="s" x="684" y="489">detail_ajar</text>
</g>
</svg>
